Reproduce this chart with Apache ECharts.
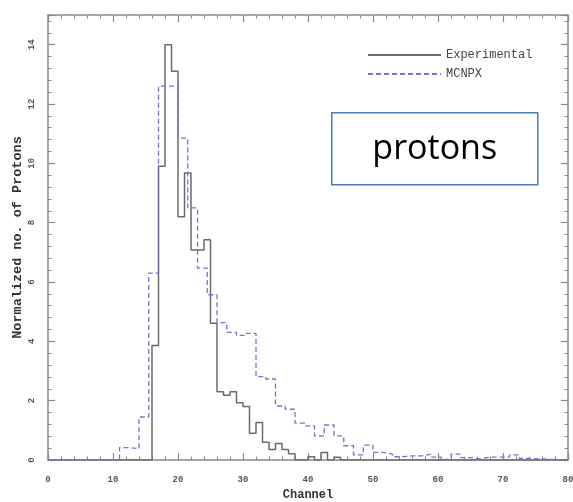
<!DOCTYPE html>
<html>
<head>
<meta charset="utf-8">
<script src="https://cdn.jsdelivr.net/npm/echarts@6/dist/echarts.min.js"></script>
<style>html,body{margin:0;padding:0;background:#fff}#c{width:573px;height:502px}</style>
</head>
<body>
<div id="c"></div>
<script>
// Experimental histogram: bin start channels (width 1) and values
const expBins = [16,17,18,19,20,21,22,23,24,25,26,27,28,29,30,31,32,33,34,35,36,37,38,39,40,41,42,43,44];
const expValues = [3.86,9.9,14.0,13.1,8.2,9.67,7.08,7.08,7.42,4.61,2.3,2.18,2.3,1.93,1.8,0.9,1.26,0.6,0.35,0.56,0.35,0.21,0,0,0.11,0,0.25,0,0.09];
const expWidth = 1;
// MCNPX histogram: bin start channels (width 1.5) and values
const mcnpxBins = [11,12.5,14,15.5,17,18.5,20,21.5,23,24.5,26,27.5,29,30.5,32,33.5,35,36.5,38,39.5,41,42.5,44,45.5,47,48.5,50,51.5,53,54.5,56,57.5,59,60.5,62,63.5,65,66.5,68,69.5,71,72.5];
const mcnpxValues = [0.42,0.38,1.45,6.3,12.6,12.6,10.85,8.5,6.47,5.57,4.63,4.3,4.2,4.27,2.81,2.73,1.82,1.71,1.24,1.15,0.81,1.18,0.81,0.48,0.17,0.5,0.26,0.2,0.11,0.14,0.14,0.2,0.1,0.02,0.2,0.08,0.04,0.1,0.1,0.1,0.17,0.05];
const mcnpxWidth = 1.5;
const xTickLabels = ['0','10','20','30','40','50','60','70','80'];
const yTickLabels = ['0','2','4','6','8','10','12','14'];
const xMin = 0, xMax = 80, yMin = 0, yMax = 15;

function steps(bins, vals, w) {
  const pts = [[xMin, 0]];
  bins.forEach((b, i) => pts.push([b, vals[i]]));
  pts.push([bins[bins.length - 1] + w, 0]);
  pts.push([xMax, 0]);
  return pts;
}

const axisCol = '#8a8a8a';
const mono = "'Liberation Mono', 'DejaVu Sans Mono', monospace";
const lineCommon = { show: true, onZero: false, lineStyle: { color: axisCol, width: 1.5 } };
const tickCommon = { show: true, inside: true, length: 7, lineStyle: { color: axisCol, width: 1.2 } };
const minorCommon = { show: true, splitNumber: 5, length: 3.5, lineStyle: { color: axisCol, width: 1 } };

const chart = echarts.init(document.getElementById('c'));
chart.setOption({
  animation: false,
  backgroundColor: '#fff',
  grid: { left: 48, right: 5, top: 15, bottom: 42, outerBoundsMode: 'none', containLabel: false },
  legend: {
    orient: 'vertical', left: 362, top: 44, itemWidth: 73, itemHeight: 14, itemGap: 7,
    itemStyle: { opacity: 0 },
    textStyle: { fontFamily: mono, fontSize: 12, color: '#444' },
    data: ['Experimental', 'MCNPX']
  },
  xAxis: [
    {
      type: 'value', min: xMin, max: xMax, interval: 10, position: 'bottom',
      name: 'Channel', nameLocation: 'middle', nameGap: 29, nameMoveOverlap: false,
      nameTextStyle: { fontFamily: mono, fontSize: 12, fontWeight: 'bold', color: '#333' },
      axisLine: lineCommon, axisTick: tickCommon, minorTick: minorCommon,
      splitLine: { show: false },
      axisLabel: { margin: 15, fontFamily: mono, fontSize: 9, fontWeight: 'bold', color: '#555',
        formatter: v => xTickLabels[Math.round(v / 10)] }
    },
    {
      type: 'value', min: xMin, max: xMax, interval: 10, position: 'top',
      axisLine: lineCommon, axisTick: tickCommon, minorTick: minorCommon,
      splitLine: { show: false }, axisLabel: { show: false }
    }
  ],
  yAxis: [
    {
      type: 'value', min: yMin, max: yMax, interval: 2, position: 'left',
      name: 'Normalized no. of Protons', nameLocation: 'middle', nameGap: 23, nameRotate: 90,
      nameMoveOverlap: false,
      nameTextStyle: { fontFamily: mono, fontSize: 13.5, fontWeight: 'bold', color: '#333' },
      axisLine: lineCommon, axisTick: tickCommon, minorTick: minorCommon,
      splitLine: { show: false },
      axisLabel: { margin: 12, rotate: 90, fontFamily: mono, fontSize: 9, fontWeight: 'bold', color: '#555',
        showMaxLabel: false,
        formatter: v => (v % 2 === 0 && v / 2 < yTickLabels.length) ? yTickLabels[v / 2] : '' }
    },
    {
      type: 'value', min: yMin, max: yMax, interval: 2, position: 'right',
      axisLine: lineCommon, axisTick: tickCommon, minorTick: minorCommon,
      splitLine: { show: false }, axisLabel: { show: false }
    }
  ],
  series: [
    {
      name: 'Experimental', type: 'line', step: 'end', symbol: 'none',
      xAxisIndex: 0, yAxisIndex: 0,
      lineStyle: { color: '#6a6a6a', width: 1.5 }, itemStyle: { color: '#6a6a6a' },
      data: steps(expBins, expValues, expWidth)
    },
    {
      name: 'MCNPX', type: 'line', step: 'end', symbol: 'none',
      xAxisIndex: 0, yAxisIndex: 0,
      lineStyle: { color: '#7474cf', width: 1.3, type: [5, 3] }, itemStyle: { color: '#7474cf' },
      data: steps(mcnpxBins, mcnpxValues, mcnpxWidth)
    }
  ],
  graphic: [
    {
      type: 'group', left: 331, top: 112,
      children: [
        { type: 'rect', shape: { x: 0, y: 0, width: 206, height: 72 },
          style: { fill: '#fff', stroke: '#4a7ebb', lineWidth: 1.5 } },
        { type: 'text', x: 103, y: 37,
          style: { text: 'protons', fill: '#000', font: "34px 'Open Sans', 'Liberation Sans', sans-serif",
            textAlign: 'center', textVerticalAlign: 'middle' } }
      ]
    }
  ]
});
</script>
</body>
</html>
